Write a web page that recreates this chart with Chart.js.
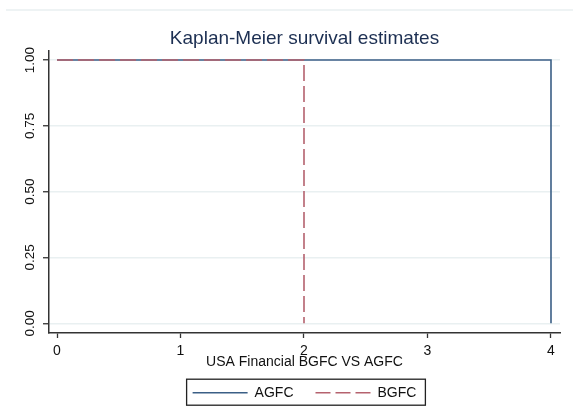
<!DOCTYPE html>
<html>
<head>
<meta charset="utf-8">
<script src="https://cdn.jsdelivr.net/npm/chart.js@4"></script>
<style>
html,body{margin:0;padding:0;background:#fff;}
#wrap{width:573px;height:418px;position:relative;}
</style>
</head>
<body>
<div id="wrap"><canvas id="c" width="573" height="418"></canvas></div>
<script>
// ---- data ----
const seriesNames = ['AGFC', 'BGFC'];
const timeAGFC = [0, 4];
const survAGFC = [1, 0];
const timeBGFC = [0, 2];
const survBGFC = [1, 0];
const xTicks = [0, 1, 2, 3, 4];
const yTicks = [0, 0.25, 0.5, 0.75, 1];
const yTickLabels = ['0.00', '0.25', '0.50', '0.75', '1.00'];
const titleText = 'Kaplan-Meier survival estimates';
const xTitleText = 'USA Financial BGFC VS AGFC';

const FONT = "'Liberation Sans', Arial, sans-serif";

function pts(xs, ys) { return xs.map((x, i) => ({x: x, y: ys[i]})); }

const topLine = {
  id: 'topLine',
  beforeDraw(chart) {
    const ctx = chart.ctx;
    ctx.save();
    ctx.fillStyle = '#ffffff';
    ctx.fillRect(0, 0, chart.width, chart.height);
    ctx.strokeStyle = '#e8eff0';
    ctx.lineWidth = 1.5;
    ctx.beginPath();
    ctx.moveTo(6, 10);
    ctx.lineTo(chart.width, 10);
    ctx.stroke();
    ctx.restore();
  }
};

const legendBorder = {
  id: 'legendBorder',
  afterDraw(chart) {
    const lg = chart.legend;
    if (!lg || !lg.legendHitBoxes || !lg.legendHitBoxes.length) return;
    const hb = lg.legendHitBoxes;
    const first = hb[0], last = hb[hb.length - 1];
    const left = first.left - 6;
    const right = last.left + last.width + 9;
    const cy = first.top + first.height / 2;
    const ctx = chart.ctx;
    ctx.save();
    ctx.strokeStyle = '#222';
    ctx.lineWidth = 1.3;
    ctx.strokeRect(left, cy - 13.5, right - left, 26);
    ctx.restore();
  }
};

new Chart(document.getElementById('c'), {
  type: 'line',
  data: {
    datasets: [
      {
        label: seriesNames[0],
        data: pts(timeAGFC, survAGFC),
        borderColor: '#3b5f86',
        borderWidth: 1.6,
        stepped: 'before',
        pointRadius: 0,
        fill: false,
        order: 2
      },
      {
        label: seriesNames[1],
        data: pts(timeBGFC, survBGFC),
        borderColor: '#b5626e',
        borderWidth: 1.6,
        borderDash: [16, 5],
        stepped: 'before',
        pointRadius: 0,
        fill: false,
        order: 1
      }
    ]
  },
  options: {
    responsive: false,
    animation: false,
    devicePixelRatio: 1,
    layout: { padding: { left: 0, right: 13, top: 0, bottom: 8.3 } },
    plugins: {
      tooltip: { enabled: false },
      title: {
        display: true,
        text: titleText,
        fullSize: false,
        color: '#1c2f52',
        font: { family: FONT, size: 19, weight: 'normal' },
        padding: { top: 27, bottom: 1.2 }
      },
      legend: {
        display: true,
        position: 'bottom',
        fullSize: false,
        align: 'center',
        labels: {
          usePointStyle: true,
          pointStyle: 'line',
          pointStyleWidth: 55,
          padding: 22,
          color: '#111',
          font: { family: FONT, size: 14 },
          sort: (a, b) => a.datasetIndex - b.datasetIndex,
          generateLabels(chart) {
            const items = Chart.defaults.plugins.legend.labels.generateLabels(chart);
            return items.map(it => {
              const ds = chart.data.datasets[it.datasetIndex];
              it.lineDash = ds.borderDash ? [15, 5] : [];
              it.strokeStyle = ds.borderColor;
              it.lineWidth = 1.5;
              return it;
            });
          }
        }
      }
    },
    scales: {
      x: {
        type: 'linear',
        position: 'bottom',
        min: -0.0648,
        max: 4.0729,
        afterBuildTicks(s) { s.ticks = xTicks.map(v => ({value: v})); },
        afterFit(s) { s.height = 30.7; },
        ticks: {
          color: '#111',
          font: { family: FONT, size: 14 },
          padding: 5,
          maxRotation: 0,
          autoSkip: false,
          callback: (v) => String(v)
        },
        grid: {
          drawOnChartArea: false,
          drawTicks: true,
          tickLength: 5,
          tickColor: '#333',
          tickWidth: 1.3
        },
        border: { display: true, color: '#333', width: 1.5 },
        title: {
          display: true,
          text: xTitleText,
          color: '#111',
          font: { family: FONT, size: 14 },
          padding: { top: 0, bottom: -7.2 }
        }
      },
      y: {
        type: 'linear',
        position: 'left',
        min: -0.0368,
        max: 1.0342,
        afterBuildTicks(s) { s.ticks = yTicks.map(v => ({value: v})); },
        afterFit(s) { s.width = 49; s.paddingTop = 0; s.paddingBottom = 0; },
        ticks: {
          color: '#111',
          font: { family: FONT, size: 13.5 },
          padding: 0,
          minRotation: 90,
          maxRotation: 90,
          crossAlign: 'center',
          autoSkip: false,
          callback: (v) => { const i = yTicks.indexOf(v); return i >= 0 ? yTickLabels[i] : ''; }
        },
        grid: {
          drawOnChartArea: true,
          color: '#e9f0f1',
          lineWidth: 1.5,
          drawTicks: true,
          tickLength: 6,
          tickColor: '#333',
          tickWidth: 1.3
        },
        border: { display: true, color: '#333', width: 1.5 }
      }
    }
  },
  plugins: [topLine, legendBorder]
});
</script>
</body>
</html>
